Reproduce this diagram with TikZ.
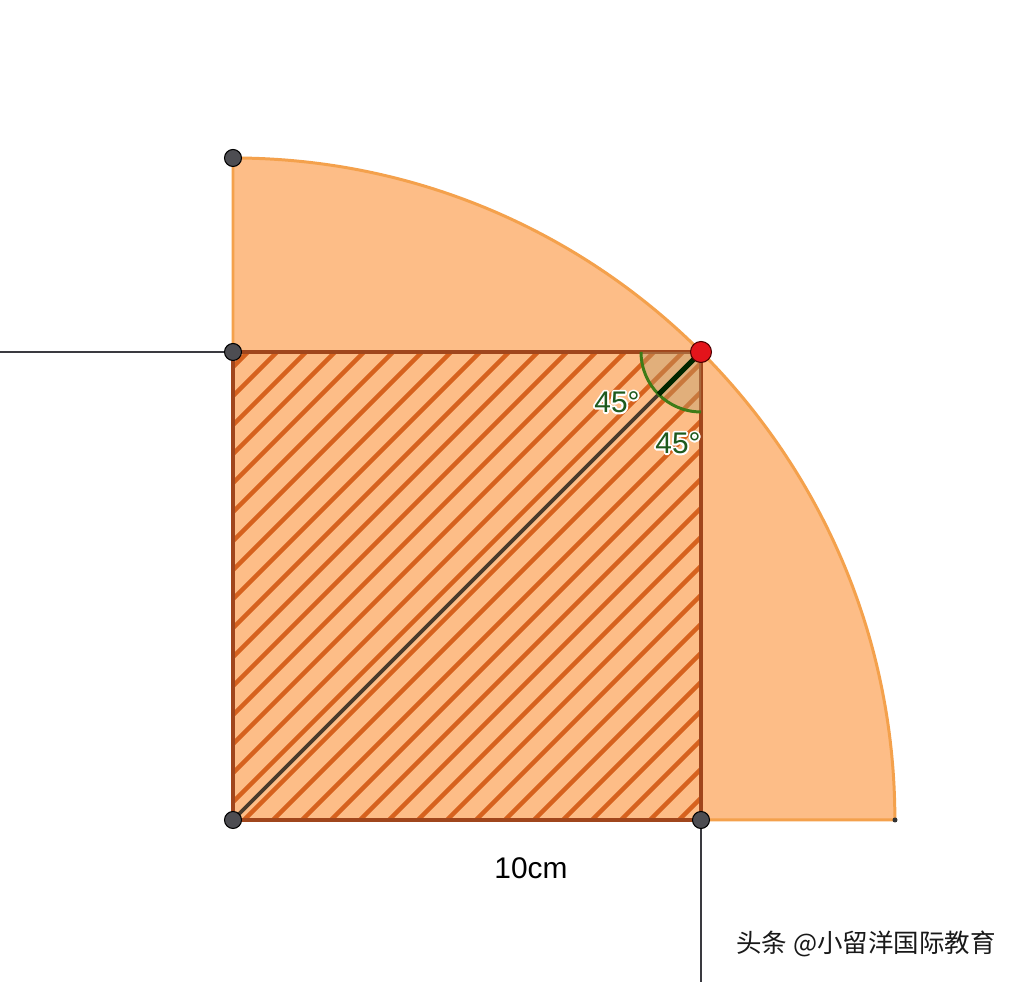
\documentclass[tikz,border=0pt]{standalone}
\usepackage{fontspec}
\setmainfont{Liberation Sans}
\newfontfamily\cjk{Noto Sans CJK SC}
\definecolor{secfill}{HTML}{FDBD87}
\definecolor{secline}{HTML}{F4A14C}
\definecolor{sqline}{HTML}{A0461C}
\definecolor{hatch}{HTML}{D6621E}
\definecolor{diag}{HTML}{4A3B2C}
\definecolor{anggreen}{HTML}{3E7B17}
\definecolor{angtext}{HTML}{1E5A1E}
\definecolor{angfill}{HTML}{B79A6A}
\definecolor{ptgrey}{HTML}{4D4D52}
\definecolor{ptred}{HTML}{E3141B}
\definecolor{axline}{HTML}{3A3A40}
\newcommand\myhalo[1]{%
 \makebox[0pt][l]{\special{pdf:code q 1 Tr 1 1 1 RG 2.2 w 1 j}\color{white}#1\special{pdf:code 0 Tr Q}}%
 #1}
\tikzset{
  pt/.style={circle, fill=ptgrey, draw=black, line width=0.6pt, minimum size=0.34cm, inner sep=0pt},
  redpt/.style={circle, fill=ptred, draw=black!70!red, line width=0.6pt, minimum size=0.42cm, inner sep=0pt},
  smallpt/.style={circle, fill=black!80, minimum size=0.1cm, inner sep=0pt},
  anglabel/.style={font=\fontsize{17}{17}\selectfont, text=angtext, inner sep=0pt},
  axis/.style={draw=axline, line width=1.6pt},
}
\begin{document}
\begin{tikzpicture}[x=0.02cm, y=0.02cm]
\useasboundingbox (0,0) rectangle (1022,982);
\fill[white] (0,0) rectangle (1022,982);
% key coordinates
\coordinate (O) at (233,162);
\coordinate (A) at (233,824);
\coordinate (E) at (895,162);
\coordinate (TL) at (233,630);
\coordinate (P) at (701,630);
\coordinate (BR) at (701,162);
\coordinate (Lend) at (0,630);
\coordinate (Dend) at (701,0);
% quarter circle sector
\filldraw[fill=secfill, draw=secline, line width=1.7pt, line join=round]
  (O) -- (A) arc[start angle=90, end angle=0, radius=13.24cm] -- cycle;
% hatching of the square
\begin{scope}
  \clip (TL) rectangle (BR);
  \foreach \k in {-15,...,30} {
    \pgfmathsetmacro\cc{-179+29*\k}
    \draw[hatch, line width=2.6pt] (\cc,0) -- (\cc+1000,1000);
  }
\end{scope}
% square border
\draw[sqline, line width=2.1pt, line join=round] (O) -- (TL) -- (P) -- (BR) -- cycle;
% diagonal
\draw[diag, line width=2.2pt] (O) -- (P);
% angle mark
\fill[angfill, fill opacity=0.4] (P) -- ++(180:1.2cm) arc[start angle=180, end angle=270, radius=1.2cm] -- cycle;
\draw[anggreen, line width=1.7pt] (P) ++(180:1.2cm) arc[start angle=180, end angle=270, radius=1.2cm];
\draw[black!85!green, line width=3pt] (P) -- ++(225:1.2cm);
% black lines
\draw[axis] (Lend) -- (TL);
\draw[axis] (BR) -- (Dend);
% points
\node[pt] (pA) at (A) {};
\node[pt] (pTL) at (TL) {};
\node[pt] (pO) at (O) {};
\node[pt] (pBR) at (BR) {};
\node[smallpt] (pE) at (E) {};
\node[redpt] (pP) at (P) {};
% labels
\node[anglabel] (l1) at (617,580) {\myhalo{45°}};
\node[anglabel] (l2) at (678,539) {\myhalo{45°}};
\node[font=\fontsize{17}{17}\selectfont, inner sep=0pt] (len) at (531,114) {10cm};
\node[font=\cjk\fontsize{14.5}{14.5}\selectfont, text=black!90, inner sep=0pt] (wm) at (866,38) {头条 @小留洋国际教育};
\end{tikzpicture}
\end{document}
